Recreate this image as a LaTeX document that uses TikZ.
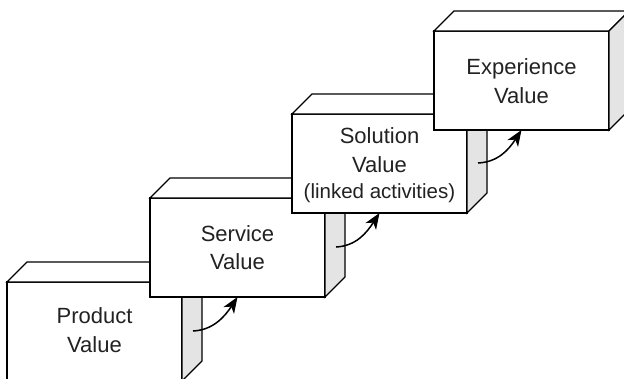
\documentclass[tikz,border=0pt]{standalone}
\usepackage{fontspec}
\setmainfont{Liberation Sans}
\usetikzlibrary{arrows.meta}
\definecolor{sidegray}{HTML}{E4E4E4}
\definecolor{ink}{HTML}{222222}
\begin{document}
\begin{tikzpicture}[x=1pt,y=-1pt,
  face/.style={draw=black,line width=1.3pt,fill=white,line join=miter},
  sideface/.style={face,fill=sidegray},
  frontface/.style={face,minimum width=175pt,minimum height=99pt,inner sep=0pt,outer sep=0pt,anchor=north west},
  lbl/.style={text=ink,font=\fontsize{22}{26}\selectfont,anchor=base,inner sep=0pt},
  sublbl/.style={lbl,font=\fontsize{20.5}{24}\selectfont},
  arr/.style={line width=1.5pt,-{Stealth[length=16pt,width=12.5pt,inset=4.5pt]}}]
\useasboundingbox (0,0) rectangle (624,378);
\clip (0,0) rectangle (624,378);
% the four stacked blocks, drawn from back-left to front-right
\foreach \i/\x/\y in {1/7/282,2/150/198,3/292/114,4/434/31}{
  \node[frontface] (b\i) at (\x,\y) {};
  \draw[face] (b\i.north west) -- ++(20,-20)
    -- ([shift={(20,-20)}]b\i.north east) -- (b\i.north east) -- cycle;
  \draw[sideface] (b\i.north east) -- ++(20,-20)
    -- ([shift={(20,-20)}]b\i.south east) -- (b\i.south east) -- cycle;
}
% labels on the front faces
\node[lbl] (p1) at ([yshift=-41pt]b1.north) {Product};
\node[lbl] (p2) at ([yshift=-70pt]b1.north) {Value};
\node[lbl] (s1l) at ([yshift=-43pt]b2.north) {Service};
\node[lbl] (s2l) at ([yshift=-71pt]b2.north) {Value};
\node[lbl] (o1) at ([yshift=-29pt]b3.north) {Solution};
\node[lbl] (o2) at ([yshift=-58pt]b3.north) {Value};
\node[sublbl] (o3) at ([yshift=-84pt]b3.north) {(linked activities)};
\node[lbl] (e1) at ([yshift=-43pt]b4.north) {Experience};
\node[lbl] (e2) at ([yshift=-72pt]b4.north) {Value};
% curved step arrows
\foreach \i/\j in {1/2,2/3,3/4}{
  \coordinate (s\i) at ([xshift=11pt,yshift=-49pt]b\i.north east);
  \draw[arr] (s\i) .. controls +(20,-1) and +(-13,20) .. (b\j.south);
}
\end{tikzpicture}
\end{document}
